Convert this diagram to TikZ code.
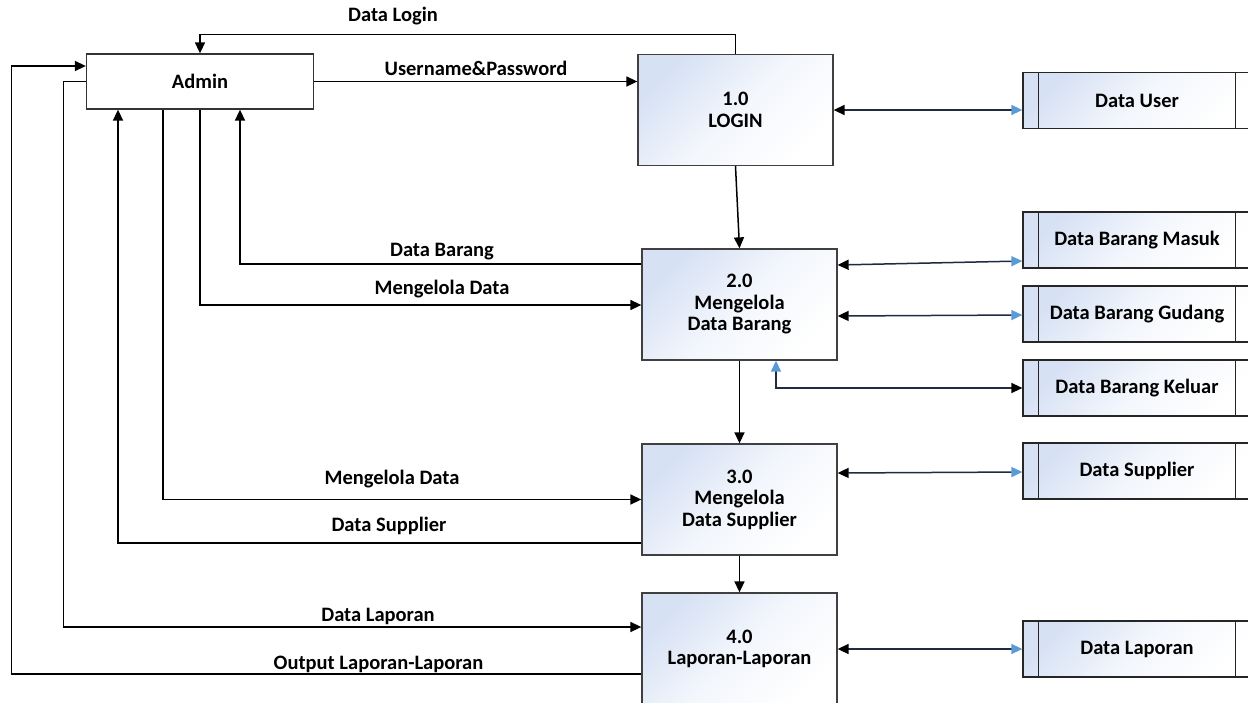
\documentclass[tikz,border=0pt]{standalone}
\usepackage{fontspec}
\setmainfont{Carlito}
\usetikzlibrary{arrows.meta}
\definecolor{procblue}{HTML}{D6E1F4}
\definecolor{linkline}{HTML}{1E2B40}
\definecolor{tipblue}{HTML}{5B9BD5}
\begin{document}
\begin{tikzpicture}[x=1pt,y=-1pt,
  txt/.style={font=\bfseries\fontsize{20.5}{21.5}\selectfont, inner sep=0pt},
  lbl/.style={txt, anchor=base},
  line/.style={line width=1.5pt, draw=black},
  arr/.style={line, -{Triangle[length=11pt,width=10pt]}},
  link/.style={line width=1.5pt, draw=linkline},
  tostore/.style={link, {Triangle[length=11pt,width=10pt,color=black]}-{Triangle[length=11pt,width=10pt,color=tipblue]}},
  fromstore/.style={link, {Triangle[length=11pt,width=10pt,color=tipblue]}-{Triangle[length=11pt,width=10pt,color=black]}},
  entity/.style={txt, draw=black!80, line width=1.3pt, fill=white, minimum width=227pt, minimum height=55pt},
  shadebox/.style={top color=procblue, bottom color=white, middle color=procblue!30!white, shading angle=45},
  proc/.style={txt, align=center, draw=black!75, line width=1.3pt, minimum width=195pt, minimum height=111pt, shadebox},
  store/.style={txt, draw=black!85, line width=1.3pt, minimum width=228pt, minimum height=56pt, shadebox},
  storeline/.style={line width=1.3pt, draw=black!85},
]
\useasboundingbox (0,0) rectangle (1248,702);
\fill[white] (0,0) rectangle (1248,702);

% entity and processes
\node[entity] (admin) at (200,81.5) {Admin};
\node[proc] (p1) at (735.5,110) {1.0\\LOGIN};
\node[proc] (p2) at (739.5,304.5) {2.0\\Mengelola\\Data Barang};
\node[proc] (p3) at (739.5,499.5) {3.0\\Mengelola\\Data Supplier};
\node[proc, minimum height=112pt] (p4) at (739.5,649) {4.0\\Laporan-Laporan};

% data stores
\node[store] (du) at (1137,100.5) {Data User};
\node[store] (dbm) at (1137,240) {Data Barang Masuk};
\node[store] (dbg) at (1137,314) {Data Barang Gudang};
\node[store] (dbk) at (1137,388) {Data Barang Keluar};
\node[store] (dsup) at (1137,471) {Data Supplier};
\node[store] (dlap) at (1137,649) {Data Laporan};
\foreach \s in {du,dbm,dbg,dbk,dsup,dlap}{
  \draw[storeline] ([xshift=16pt]\s.north west) -- ([xshift=16pt]\s.south west)
     ([xshift=-16pt]\s.north east) -- ([xshift=-16pt]\s.south east);
}

% flows between admin and processes
\draw[arr] (p1.north) -- ++(0,-19.5) -| (admin.north);
\draw[arr] (admin.east) -- (p1.west |- admin.east);
\draw[arr] (p2.west |- 0,264) -| (admin.south -| 240,0);
\draw[arr] (admin.south -| 200,0) |- (p2.west |- 0,305);
\draw[arr] (admin.south -| 163,0) |- (p3.west |- 0,499.5);
\draw[arr] (p3.west |- 0,543) -| (admin.south -| 118,0);
\draw[arr] (admin.west) -- ++(-22.5,0) |- (p4.west |- 0,627);
\draw[arr] (p4.west |- 0,674) -- ++(-630,0) |- (admin.west |- 0,66);

% flows between processes
\draw[arr] (p1.south) -- (p2.north);
\draw[arr] (p2.south) -- (p3.north);
\draw[arr] (p3.south) -- (p4.north);

% flows to data stores
\draw[tostore] (p1.east) -- (du.west |- p1.east);
\draw[tostore] (p2.east |- 0,265) -- (dbm.west |- 0,261);
\draw[tostore] (p2.east |- 0,316) -- (dbg.west |- 0,315);
\draw[fromstore] (p2.south -| 776,0) |- (dbk.west);
\draw[tostore] (p3.east |- 0,473) -- (dsup.west |- 0,472);
\draw[tostore] (p4.east) -- (dlap.west);

% labels
\node[lbl] (tlogin) at (393,21) {Data Login};
\node[lbl] (tuser) at (476,75) {Username\&Password};
\node[lbl] (tbarang) at (442,256) {Data Barang};
\node[lbl] (tkelola1) at (442,294) {Mengelola Data};
\node[lbl] (tkelola2) at (392,484) {Mengelola Data};
\node[lbl] (tsup) at (389,531) {Data Supplier};
\node[lbl] (tlap) at (378,621) {Data Laporan};
\node[lbl] (tout) at (378.5,669) {Output Laporan-Laporan};
\end{tikzpicture}
\end{document}
